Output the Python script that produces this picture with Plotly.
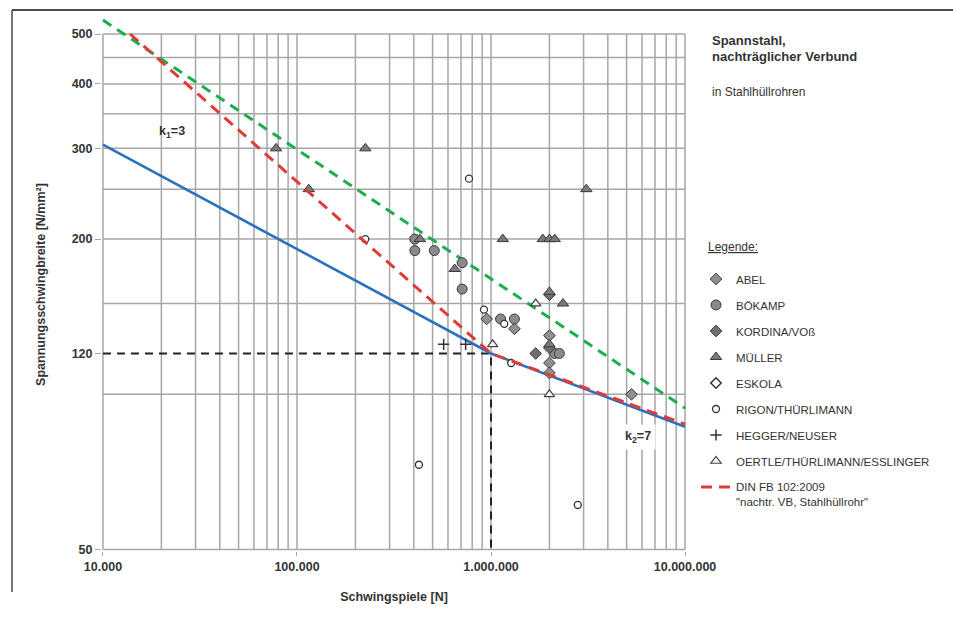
import plotly.graph_objects as go

# ---------------- data ----------------
ABEL_N = [0.95e6, 1.32e6, 2.0e6, 2.0e6, 2.0e6, 5.3e6]
ABEL_S = [140, 134, 130, 115, 110, 100]
BOEKAMP_N = [4.05e5, 4.05e5, 5.1e5, 7.1e5, 7.1e5, 1.12e6, 1.32e6, 2.13e6, 2.25e6]
BOEKAMP_S = [200, 190, 190, 180, 160, 140, 140, 120, 120]
KORDINA_N = [1.7e6, 2.0e6, 2.0e6]
KORDINA_S = [120, 123, 156]
MUELLER_N = [7.8e4, 1.15e5, 2.25e5, 4.3e5, 6.5e5, 1.15e6, 1.85e6, 2.0e6, 2.13e6, 2.0e6, 2.35e6, 3.1e6, 2.0e6]
MUELLER_S = [300, 250, 300, 200, 175, 200, 200, 200, 200, 158, 150, 250, 125]
ESKOLA_N = [None]   # no ESKOLA point is visible in the chart (legend entry only)
ESKOLA_S = [None]
RIGON_N = [2.25e5, 4.25e5, 7.7e5, 9.2e5, 1.17e6, 1.27e6, 2.8e6]
RIGON_S = [200, 73, 262, 146, 137, 115, 61]
HEGGER_N = [5.7e5, 7.4e5]
HEGGER_S = [125, 125]
OERTLE_N = [1.02e6, 1.7e6, 2.0e6]
OERTLE_S = [125, 150, 100]

DIN_N = [1.38e4, 1e6, 1e7]
DIN_S = [500, 120, 87.5]
CHAR_N = [1e4, 1e6, 1e7]
CHAR_S = [305, 120, 86.5]
UPPER_N = [1e4, 1e7]
UPPER_S = [532, 94]
REF_N = [1e4, 1e6, 1e6]
REF_S = [120, 120, 50]

X_TICKS = [1e4, 1e5, 1e6, 1e7]
X_TICKTEXT = ["10.000", "100.000", "1.000.000", "10.000.000"]
Y_TICKS = [50, 120, 200, 300, 400, 500]
Y_TICKTEXT = ["50", "120", "200", "300", "400", "500"]
GRID_N = [m * 10 ** k for k in (4, 5, 6) for m in range(1, 10)] + [1e7]
GRID_S = list(range(50, 501, 50))

# ---------------- layout geometry ----------------
W, H = 953, 617
L, R, T, B = 102, 267, 18, 66
PW, PH = W - L - R, H - T - B


def px(x):
    return (x - L) / PW


def py(y):
    return (H - B - y) / PH


FONT = "Liberation Sans, Arial, sans-serif"
TXT = "#333333"
GRID = "#a6a6a6"

fig = go.Figure()

# grid lines (within 50..500 and 1e4..1e7)
gx, gy = [], []
for n in GRID_N:
    gx += [n, n, None]
    gy += [GRID_S[0], GRID_S[-1], None]
for s in GRID_S:
    gx += [GRID_N[0], GRID_N[-1], None]
    gy += [s, s, None]
fig.add_trace(go.Scatter(x=gx, y=gy, mode="lines", line=dict(color=GRID, width=1.5),
                         hoverinfo="skip", showlegend=False))

# reference dashed black
fig.add_trace(go.Scatter(x=REF_N, y=REF_S, mode="lines",
                         line=dict(color="#222222", width=2, dash="8px,6px"),
                         hoverinfo="skip", showlegend=False))
# characteristic S-N line (blue)
fig.add_trace(go.Scatter(x=CHAR_N, y=CHAR_S, mode="lines",
                         line=dict(color="#2a72c0", width=2.6),
                         hoverinfo="skip", showlegend=False))
# upper green dashed
fig.add_trace(go.Scatter(x=UPPER_N, y=UPPER_S, mode="lines",
                         line=dict(color="#1aae4c", width=3, dash="10px,7px"),
                         hoverinfo="skip", showlegend=False))

mk_edge = dict(color="#3a3a3a", width=1)
series = [
    ("ABEL", ABEL_N, ABEL_S, dict(symbol="diamond", size=9, color="#909090", line=mk_edge)),
    ("BÖKAMP", BOEKAMP_N, BOEKAMP_S, dict(symbol="circle", size=10, color="#8a8a8a", line=mk_edge)),
    ("KORDINA/VOß", KORDINA_N, KORDINA_S, dict(symbol="diamond", size=9, color="#6e6e6e", line=mk_edge)),
    ("MÜLLER", MUELLER_N, MUELLER_S, dict(symbol="triangle-up", size=10, color="#7a7a7a", line=mk_edge)),
    ("ESKOLA", ESKOLA_N, ESKOLA_S, dict(symbol="diamond", size=8, color="white", line=dict(color="#333", width=1.5))),
    ("RIGON/THÜRLIMANN", RIGON_N, RIGON_S, dict(symbol="circle", size=7, color="white", line=dict(color="#333", width=1.3))),
    ("HEGGER/NEUSER", HEGGER_N, HEGGER_S, dict(symbol="cross-thin", size=8, color="#333", line=dict(color="#333", width=1.5))),
    ("OERTLE/THÜRLIMANN/ESSLINGER", OERTLE_N, OERTLE_S, dict(symbol="triangle-up", size=9, color="#f4f4f4", line=dict(color="#444", width=1.2))),
]
for i, (name, xs, ys, mk) in enumerate(series):
    fig.add_trace(go.Scatter(x=xs, y=ys, mode="markers", name=name, marker=mk,
                             legendgroup="g%d" % i, showlegend=True))

# DIN FB line (red dashed)
fig.add_trace(go.Scatter(x=DIN_N, y=DIN_S, mode="lines",
                         name='DIN FB 102:2009<br>"nachtr. VB, Stahlhüllrohr"',
                         line=dict(color="#e03c36", width=3, dash="11px,7px"),
                         legendgroup="gdin", showlegend=True))

annotations = [
    dict(x=px(710), y=py(40), text="<b>Spannstahl,</b>", font=dict(size=13)),
    dict(x=px(710), y=py(57), text="<b>nachträglicher Verbund</b>", font=dict(size=13)),
    dict(x=px(710), y=py(92), text="in Stahlhüllrohren", font=dict(size=12)),
    dict(x=px(706), y=py(247), text="<span style='text-decoration:underline'>Legende:</span>", font=dict(size=12)),
    dict(x=px(157), y=py(132), text="<b>k<sub>1</sub>=3</b>", font=dict(size=12.5)),
    dict(x=px(620), y=py(437), text="<b>k<sub>2</sub>=7</b>", font=dict(size=12.5), bgcolor="white", borderpad=4),
]
for a in annotations:
    a.update(xref="paper", yref="paper", xanchor="left", yanchor="middle", showarrow=False)
    a["font"].update(family=FONT, color=TXT)

fig.update_layout(
    width=W, height=H,
    margin=dict(l=L, r=R, t=T, b=B, autoexpand=False),
    paper_bgcolor="white", plot_bgcolor="white",
    font=dict(family=FONT, color=TXT, size=12),
    annotations=annotations,
    legend=dict(x=px(696), y=py(265), xanchor="left", yanchor="top",
                tracegroupgap=7, traceorder="grouped", valign="top",
                font=dict(family=FONT, size=11.5, color=TXT), bgcolor="rgba(0,0,0,0)"),
    shapes=[
        dict(type="line", xref="paper", yref="paper", x0=px(12), x1=px(953), y0=py(10), y1=py(10),
             line=dict(color="#4a4a4a", width=2), layer="above"),
        dict(type="line", xref="paper", yref="paper", x0=px(12), x1=px(12), y0=py(10), y1=py(592),
             line=dict(color="#4a4a4a", width=1.5), layer="above"),
    ],
)

fig.update_xaxes(type="log", range=[3.995, 7.005], showgrid=False, zeroline=False, showline=False,
                 tickvals=X_TICKS, ticktext=X_TICKTEXT, ticks="outside", ticklen=4, tickcolor=GRID,
                 tickfont=dict(family=FONT, size=12.5, color=TXT, weight="bold"),
                 title=dict(text="<b>Schwingspiele [N]</b>", font=dict(family=FONT, size=12.5, color=TXT), standoff=19))
fig.update_yaxes(type="log", range=[1.696, 2.730], showgrid=False, zeroline=False, showline=False,
                 tickvals=Y_TICKS, ticktext=Y_TICKTEXT, ticks="outside", ticklen=6, tickcolor=GRID,
                 tickfont=dict(family=FONT, size=12.5, color=TXT, weight="bold"),
                 title=dict(text="<b>Spannungsschwingbreite [N/mm²]</b>", font=dict(family=FONT, size=12.5, color=TXT), standoff=23))

fig.write_html("out.html", config={"displayModeBar": False},
               post_script="document.body.style.margin='0';")
